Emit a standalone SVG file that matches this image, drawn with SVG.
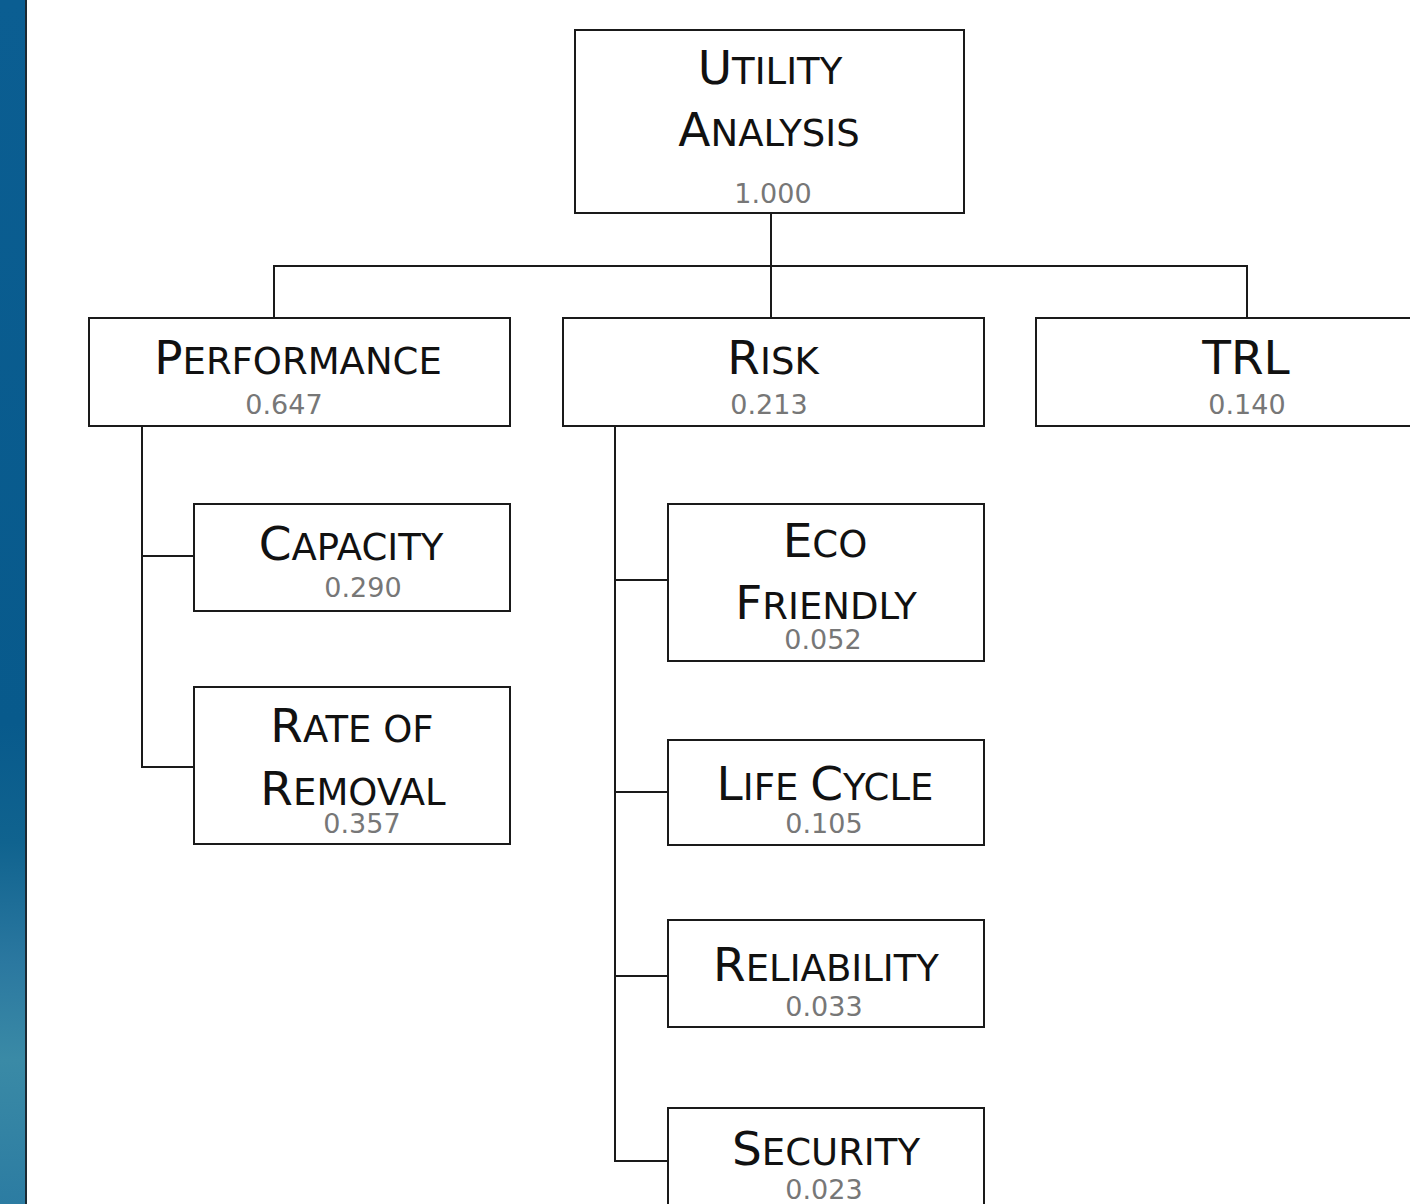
<svg xmlns="http://www.w3.org/2000/svg" width="1410" height="1204" viewBox="0 0 1410 1204">
<defs>
<linearGradient id="bar" x1="0" y1="0" x2="0" y2="1">
<stop offset="0" stop-color="#0b5e92"/>
<stop offset="0.6" stop-color="#085a8c"/>
<stop offset="0.7" stop-color="#10638f"/>
<stop offset="0.8" stop-color="#2b78a0"/>
<stop offset="0.88" stop-color="#3a8aa6"/>
<stop offset="1" stop-color="#2c7ca2"/>
</linearGradient>
</defs>
<style>
.box{fill:#fff;stroke:#1a1a1a;stroke-width:2}
.ln{fill:none;stroke:#1a1a1a;stroke-width:2}
.t{font-family:"DejaVu Sans",Verdana,sans-serif;fill:#111;text-anchor:middle}
.b{font-size:47px}
.s{font-size:37px}
.n{font-family:"DejaVu Sans",Verdana,sans-serif;font-size:27px;fill:#777;text-anchor:middle}
</style>
<rect x="0" y="0" width="1410" height="1204" fill="#fff"/>
<rect x="0" y="0" width="25" height="1204" fill="url(#bar)"/>
<rect x="25" y="0" width="2" height="1204" fill="#1c2a33"/>

<g id="connectors">
<path class="ln" d="M771 213V266M274 318V266H1247V318M771 266V318"/>
<path class="ln" d="M142 426V767H194M142 556H194"/>
<path class="ln" d="M615 426V1161H668M615 580H668M615 792H668M615 976H668"/>
</g>

<g id="utility">
<rect class="box" x="575" y="30" width="389" height="183"/>
<text class="t" x="770" y="84"><tspan class="b">U</tspan><tspan class="s">TILITY</tspan></text>
<text class="t" x="769" y="146"><tspan class="b">A</tspan><tspan class="s">NALYSIS</tspan></text>
<text class="n" x="773" y="203">1.000</text>
</g>

<g id="performance">
<rect class="box" x="89" y="318" width="421" height="108"/>
<text class="t" x="298" y="374"><tspan class="b">P</tspan><tspan class="s">ERFORMANCE</tspan></text>
<text class="n" x="284" y="414">0.647</text>
</g>

<g id="risk">
<rect class="box" x="563" y="318" width="421" height="108"/>
<text class="t" x="773" y="374"><tspan class="b">R</tspan><tspan class="s">ISK</tspan></text>
<text class="n" x="769" y="414">0.213</text>
</g>

<g id="trl">
<rect class="box" x="1036" y="318" width="380" height="108"/>
<text class="t" x="1246" y="374"><tspan class="b">TRL</tspan></text>
<text class="n" x="1247" y="414">0.140</text>
</g>

<g id="capacity">
<rect class="box" x="194" y="504" width="316" height="107"/>
<text class="t" x="351" y="560"><tspan class="b">C</tspan><tspan class="s">APACITY</tspan></text>
<text class="n" x="363" y="597">0.290</text>
</g>

<g id="rate-of-removal">
<rect class="box" x="194" y="687" width="316" height="157"/>
<text class="t" x="352" y="742"><tspan class="b">R</tspan><tspan class="s">ATE OF</tspan></text>
<text class="t" x="353" y="805"><tspan class="b">R</tspan><tspan class="s">EMOVAL</tspan></text>
<text class="n" x="362" y="833">0.357</text>
</g>

<g id="eco-friendly">
<rect class="box" x="668" y="504" width="316" height="157"/>
<text class="t" x="825" y="557"><tspan class="b">E</tspan><tspan class="s">CO</tspan></text>
<text class="t" x="826" y="619"><tspan class="b">F</tspan><tspan class="s">RIENDLY</tspan></text>
<text class="n" x="823" y="649">0.052</text>
</g>

<g id="life-cycle">
<rect class="box" x="668" y="740" width="316" height="105"/>
<text class="t" x="825" y="800"><tspan class="b">L</tspan><tspan class="s">IFE </tspan><tspan class="b">C</tspan><tspan class="s">YCLE</tspan></text>
<text class="n" x="824" y="833">0.105</text>
</g>

<g id="reliability">
<rect class="box" x="668" y="920" width="316" height="107"/>
<text class="t" x="826" y="981"><tspan class="b">R</tspan><tspan class="s">ELIABILITY</tspan></text>
<text class="n" x="824" y="1016">0.033</text>
</g>

<g id="security">
<rect class="box" x="668" y="1108" width="316" height="110"/>
<text class="t" x="826" y="1165"><tspan class="b">S</tspan><tspan class="s">ECURITY</tspan></text>
<text class="n" x="824" y="1199">0.023</text>
</g>
</svg>
